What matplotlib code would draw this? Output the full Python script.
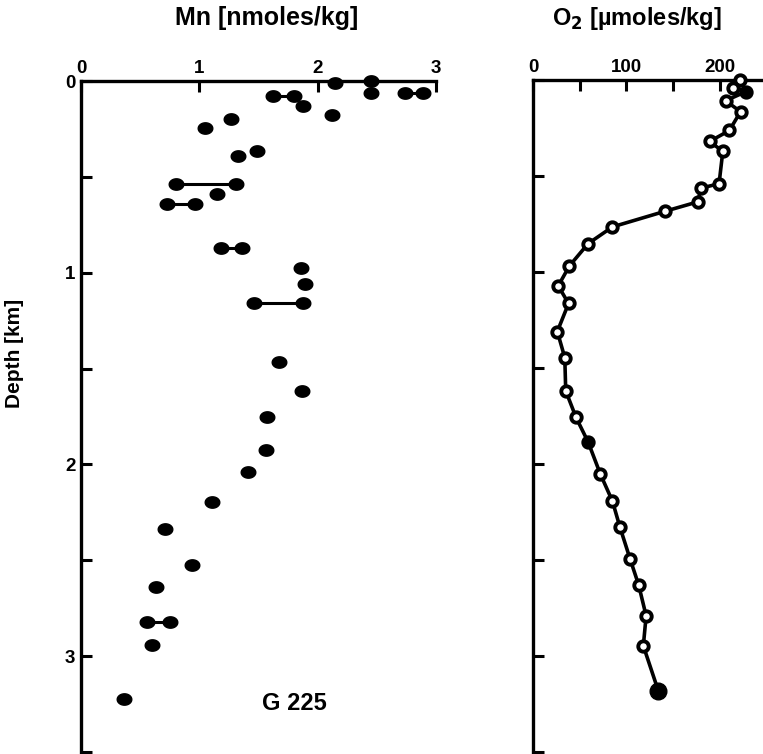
import numpy as np
import matplotlib
matplotlib.use("Agg")
import matplotlib.pyplot as plt
from matplotlib.path import Path

plt.rcParams['font.family'] = ['Liberation Sans', 'DejaVu Sans']
plt.rcParams['font.weight'] = 'bold'

# Dissolved Mn, single samples (depth km, nmol/kg)
mn_depth = [0.01, 0.00, 0.06, 0.133, 0.177, 0.197, 0.246, 0.367, 0.393, 0.592,
            0.978, 1.06, 1.467, 1.617, 1.752, 1.926, 2.038, 2.197, 2.336,
            2.523, 2.639, 2.942, 3.224]
mn_value = [2.15, 2.45, 2.45, 1.88, 2.12, 1.27, 1.05, 1.49, 1.33, 1.15,
            1.86, 1.89, 1.67, 1.87, 1.57, 1.56, 1.41, 1.11, 0.71,
            0.94, 0.63, 0.60, 0.36]

# Duplicate Mn samples joined by a bar (depth, low, high)
dup_depth = [0.064, 0.078, 0.535, 0.643, 0.869, 1.16, 2.822]
dup_low = [2.74, 1.62, 0.80, 0.73, 1.18, 1.46, 0.56]
dup_high = [2.89, 1.80, 1.31, 0.96, 1.36, 1.88, 0.75]

# Dissolved oxygen profile (depth km, umol/kg)
o2_depth = [0.0, 0.04, 0.06, 0.108, 0.165, 0.263, 0.32, 0.372, 0.54, 0.563,
            0.635, 0.684, 0.765, 0.852, 0.968, 1.072, 1.164, 1.31, 1.446,
            1.619, 1.757, 1.886, 2.052, 2.194, 2.329, 2.497, 2.63, 2.791,
            2.947, 3.181]
o2_value = [221, 214, 228, 206, 222, 210, 189, 203, 199, 180,
            176, 141, 85, 59, 39, 27, 38, 26, 34,
            35, 46, 59, 72, 85, 93, 104, 113, 121,
            118, 134]
o2_filled = [2, 21, 29]

W, H = 763, 754
fig = plt.figure(figsize=(W / 100, H / 100), dpi=100)

# Slightly flattened dot used for the Mn samples
t = np.linspace(0, 2 * np.pi, 60)
dot = Path(np.column_stack([np.cos(t), 0.78 * np.sin(t)]), closed=True)


def make_axes(x0, x1, y0, y1):
    ax = fig.add_axes([x0 / W, 1 - y1 / H, (x1 - x0) / W, (y1 - y0) / H])
    for s in ('right', 'bottom'):
        ax.spines[s].set_visible(False)
    for s in ('left', 'top'):
        ax.spines[s].set_linewidth(2.4)
    ax.xaxis.tick_top()
    ax.set_ylim(3.5, 0)
    ax.set_yticks(np.arange(0, 3.51, 0.5))
    ax.tick_params(axis='both', direction='in', width=2.2, length=8,
                   labelsize=13.5, pad=4)
    ax.tick_params(axis='x', pad=3)
    ax.patch.set_alpha(0)
    return ax


# Mn panel
ax1 = make_axes(81, 436, 81, 752)
ax1.set_xlim(0, 3)
ax1.set_xticks([0, 1, 2, 3])
ax1.set_xticklabels(['0', '1', '2', '3'])
ax1.set_yticklabels(['0', '', '1', '', '2', '', '3', ''])
for d, lo, hi in zip(dup_depth, dup_low, dup_high):
    ax1.plot([lo, hi], [d, d], color='black', lw=2.2, marker=dot,
             ms=10.5, clip_on=False, zorder=3)
ax1.plot(mn_value, mn_depth, linestyle='none', marker=dot, color='black',
         ms=10.5, clip_on=False, zorder=3)
fig.text(294 / W, 1 - 704 / H, 'G 225', fontsize=17, fontweight='bold',
         ha='center', va='center')
fig.text(15 / W, 1 - 353 / H, 'Depth [km]', fontsize=15, fontweight='bold',
         ha='center', va='center', rotation=90)
fig.text(267 / W, 1 - 18 / H, 'Mn [nmoles/kg]', fontsize=18,
         fontweight='bold', ha='center', va='center')

# O2 panel
ax2 = make_axes(533, 763, 80, 752)
ax2.set_xlim(0, 246)
ax2.set_xticks([0, 50, 100, 150, 200])
ax2.set_xticklabels(['0', '', '100', '', '200'])
ax2.set_yticklabels([])
ax2.plot(o2_value, o2_depth, color='black', lw=2.6, marker='o', ms=7.5,
         mfc='white', mec='black', mew=2.8, clip_on=False, zorder=3)
for i in o2_filled:
    size = 12 if i == len(o2_value) - 1 else 8
    ax2.plot(o2_value[i], o2_depth[i], marker='o', ms=size, color='black',
             clip_on=False, zorder=4)
fig.text(637 / W, 1 - 18 / H, 'O$_2$ [µmoles/kg]', fontsize=17,
         fontweight='bold', ha='center', va='center')

fig.savefig('out.png', dpi=100)
